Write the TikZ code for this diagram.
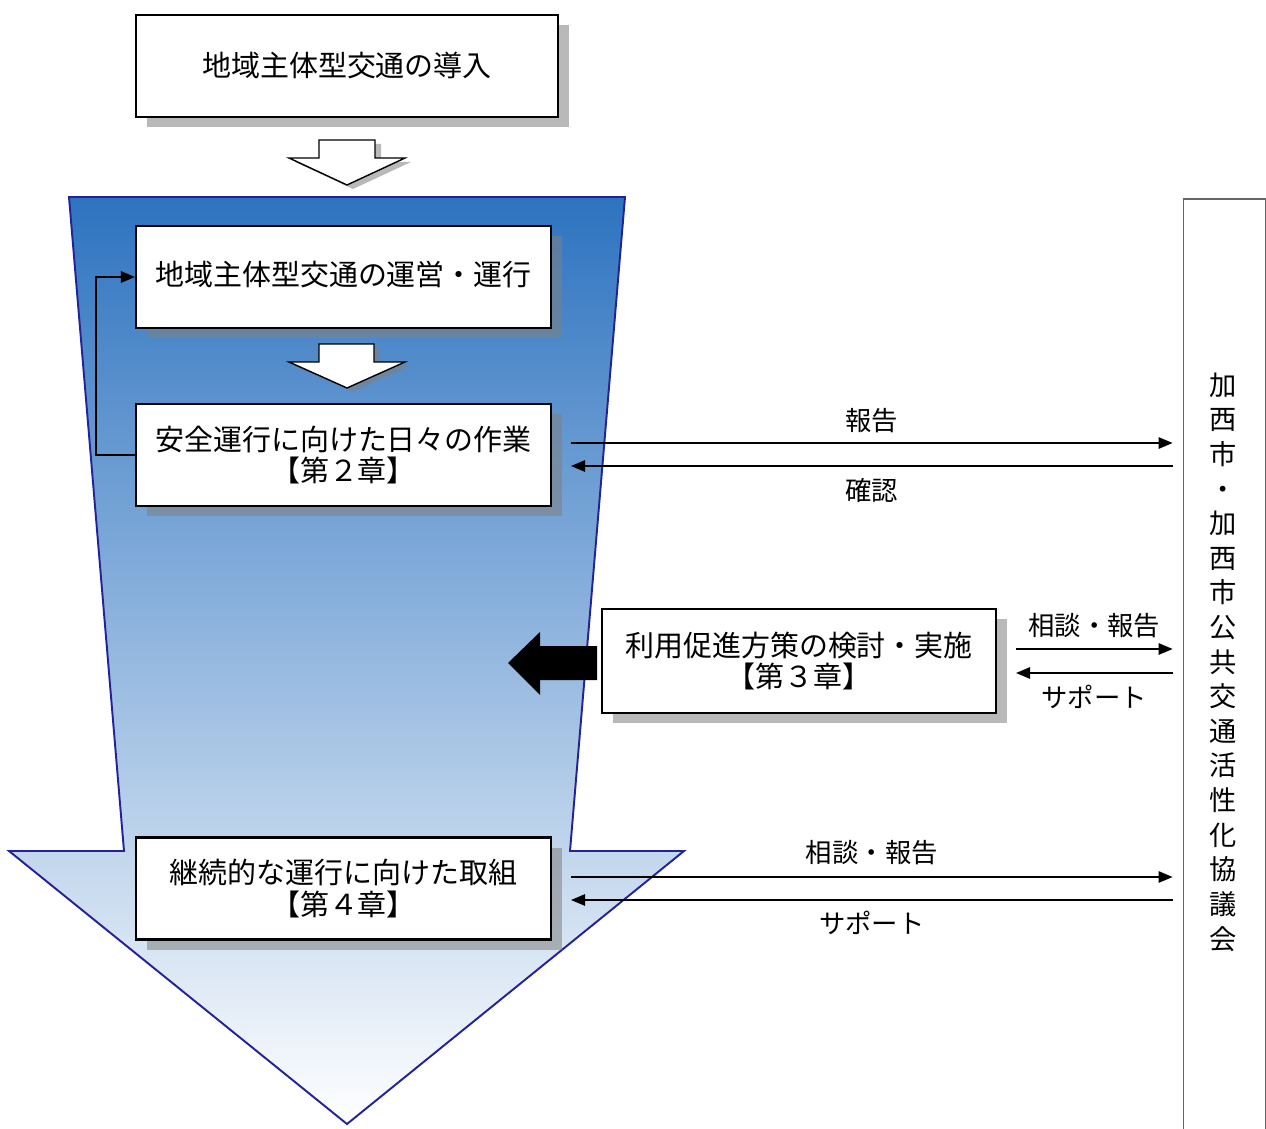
\documentclass[tikz,border=0pt]{standalone}
\usepackage{fontspec}
\setmainfont{Noto Sans CJK JP}
\usetikzlibrary{arrows.meta,calc,shadows}
\definecolor{navy}{RGB}{35,35,150}
\definecolor{topblue}{RGB}{45,115,192}
\definecolor{midblue}{RGB}{163,181,222}
\begin{document}
\begin{tikzpicture}[x=0.02cm,y=-0.02cm,
  boxtxt/.style={font=\fontsize{16.5}{18}\selectfont},
  lbl/.style={font=\fontsize{15}{16}\selectfont},
  mainbox/.style={draw=black,line width=1.2pt,fill=white,boxtxt,align=center,inner sep=0pt,
     drop shadow={shadow xshift=0.22cm,shadow yshift=-0.2cm,fill=black!50,opacity=0.55}},
  arr/.style={line width=0.9pt,-{Triangle[length=8pt,width=6.5pt]}},
  hollow/.style={draw=black,line width=0.8pt,fill=white},
  hshadow/.style={fill=black!50,opacity=0.55}
]
\useasboundingbox (0,0) rectangle (1266,1128);
\fill[white] (0,0) rectangle (1266,1128);

% big funnel arrow
\path[top color=topblue,middle color=midblue,bottom color=white,draw=navy,line width=1.1pt,line join=miter]
  (69,197) -- (625,197) -- (570,851) -- (684,851) -- (347,1124) -- (9,851) -- (124,851) -- cycle;

% boxes
\node[mainbox,minimum width=8.44cm,minimum height=2.04cm] (b1) at (347,66) {地域主体型交通の導入};
\node[mainbox,minimum width=8.3cm,minimum height=2.04cm] (b2) at (343.5,277) {\raisebox{4.5pt}{地域主体型交通の運営・運行}};
\node[mainbox,minimum width=8.3cm,minimum height=2.04cm] (b3) at (343.5,455) {安全運行に向けた日々の作業\\【第２章】};
\node[mainbox,minimum width=7.88cm,minimum height=2.08cm] (b4) at (799,661) {利用促進方策の検討・実施\\【第３章】};
\node[mainbox,minimum width=8.3cm,minimum height=2.04cm] (b5) at (343.5,888.5) {継続的な運行に向けた取組\\【第４章】};

% right panel
\node[draw=black!60,line width=1pt,fill=white,minimum width=1.64cm,minimum height=18.8cm,inner sep=0pt] (panel) at (1224.5,669) {};
\node[font=\fontsize{15.5}{19.7}\selectfont,align=center,inner sep=0pt] (ptxt) at (1223,662)
  {加\\西\\市\\・\\加\\西\\市\\公\\共\\交\\通\\活\\性\\化\\協\\議\\会};

% hollow arrows
\fill[hshadow] (325,144) -- (381,144) -- (381,162) -- (411,162) -- (353,189) -- (295,162) -- (325,162) -- cycle;
\path[hollow] (319,140) -- (375,140) -- (375,158) -- (405,158) -- (347,185) -- (289,158) -- (319,158) -- cycle;
\fill[hshadow] (325,348) -- (380,348) -- (380,366) -- (411,366) -- (353,392) -- (295,366) -- (325,366) -- cycle;
\path[hollow] (319,344) -- (374,344) -- (374,362) -- (405,362) -- (347,388) -- (289,362) -- (319,362) -- cycle;

% black arrow
\fill[black] (597,646) -- (540,646) -- (540,632) -- (508,663) -- (540,695) -- (540,680) -- (597,680) -- cycle;

% feedback loop
\draw[arr] (b3.west) -- ++(-39,0) |- (b2.west);

% connectors to panel
\draw[arr] ($(b3.east)+(19,-12)$) -- ($(panel.west |- b3.east)+(-10,-12)$)
  node[midway,lbl,yshift=0.44cm] (l1) {報告};
\draw[arr] ($(panel.west |- b3.east)+(-10,11)$) -- ($(b3.east)+(19,11)$)
  node[midway,lbl,yshift=-0.48cm] (l2) {確認};

\draw[arr] ($(b4.east)+(19,-12)$) -- ($(panel.west |- b4.east)+(-10,-12)$)
  node[midway,lbl,yshift=0.46cm] (l3) {相談・報告};
\draw[arr] ($(panel.west |- b4.east)+(-10,12)$) -- ($(b4.east)+(19,12)$)
  node[midway,lbl,yshift=-0.48cm] (l4) {サポート};

\draw[arr] ($(b5.east)+(19,-11.5)$) -- ($(panel.west |- b5.east)+(-10,-11.5)$)
  node[midway,lbl,yshift=0.48cm] (l5) {相談・報告};
\draw[arr] ($(panel.west |- b5.east)+(-10,11.5)$) -- ($(b5.east)+(19,11.5)$)
  node[midway,lbl,yshift=-0.46cm] (l6) {サポート};
\end{tikzpicture}
\end{document}
